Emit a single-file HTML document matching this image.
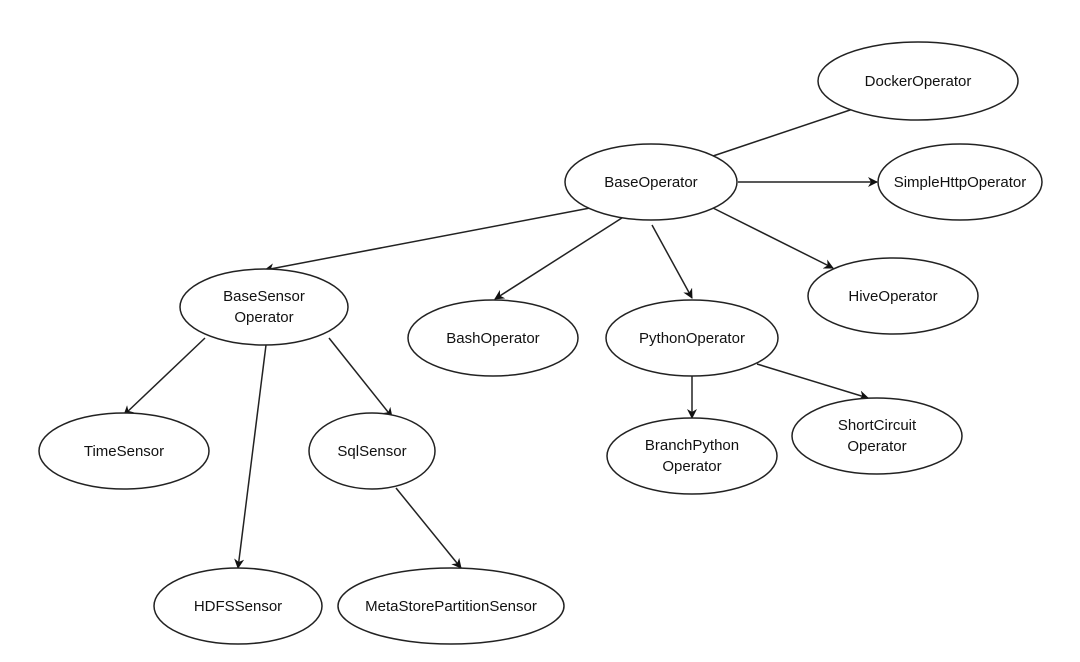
<!DOCTYPE html>
<html><head><meta charset="utf-8"><style>
html,body{margin:0;padding:0;background:#fff;}
svg{display:block;}
text{font-family:"Liberation Sans",Arial,sans-serif;font-size:15px;fill:#111;text-anchor:middle;}
ellipse{fill:#fff;stroke:#222;stroke-width:1.5;}
line{stroke:#222;stroke-width:1.5;}
</style></head><body>
<svg width="1080" height="662" viewBox="0 0 1080 662">
<defs><marker id="a" markerWidth="10" markerHeight="10" refX="9" refY="5" orient="auto" markerUnits="userSpaceOnUse"><path d="M0,0 L10,5 L0,10 L3,5 Z" fill="#111"/></marker></defs>
<line x1="713" y1="156" x2="865" y2="105" marker-end="url(#a)"/>
<line x1="738" y1="182" x2="877" y2="182" marker-end="url(#a)"/>
<line x1="713" y1="208" x2="833" y2="268" marker-end="url(#a)"/>
<line x1="652" y1="225" x2="692" y2="298" marker-end="url(#a)"/>
<line x1="625" y1="216" x2="495" y2="299" marker-end="url(#a)"/>
<line x1="590" y1="208" x2="265" y2="270" marker-end="url(#a)"/>
<line x1="205" y1="338" x2="124" y2="415" marker-end="url(#a)"/>
<line x1="266" y1="345" x2="238" y2="568" marker-end="url(#a)"/>
<line x1="329" y1="338" x2="392" y2="417" marker-end="url(#a)"/>
<line x1="396" y1="488" x2="461" y2="568" marker-end="url(#a)"/>
<line x1="692" y1="376" x2="692" y2="418" marker-end="url(#a)"/>
<line x1="757" y1="364" x2="868" y2="398" marker-end="url(#a)"/>
<ellipse cx="918" cy="81" rx="100" ry="39"/><text x="918" y="86">DockerOperator</text>
<ellipse cx="651" cy="182" rx="86" ry="38"/><text x="651" y="187">BaseOperator</text>
<ellipse cx="960" cy="182" rx="82" ry="38"/><text x="960" y="187">SimpleHttpOperator</text>
<ellipse cx="264" cy="307" rx="84" ry="38"/><text x="264" y="301">BaseSensor</text><text x="264" y="322">Operator</text>
<ellipse cx="893" cy="296" rx="85" ry="38"/><text x="893" y="301">HiveOperator</text>
<ellipse cx="493" cy="338" rx="85" ry="38"/><text x="493" y="343">BashOperator</text>
<ellipse cx="692" cy="338" rx="86" ry="38"/><text x="692" y="343">PythonOperator</text>
<ellipse cx="124" cy="451" rx="85" ry="38"/><text x="124" y="456">TimeSensor</text>
<ellipse cx="372" cy="451" rx="63" ry="38"/><text x="372" y="456">SqlSensor</text>
<ellipse cx="692" cy="456" rx="85" ry="38"/><text x="692" y="450">BranchPython</text><text x="692" y="471">Operator</text>
<ellipse cx="877" cy="436" rx="85" ry="38"/><text x="877" y="430">ShortCircuit</text><text x="877" y="451">Operator</text>
<ellipse cx="238" cy="606" rx="84" ry="38"/><text x="238" y="611">HDFSSensor</text>
<ellipse cx="451" cy="606" rx="113" ry="38"/><text x="451" y="611">MetaStorePartitionSensor</text>
</svg>
</body></html>
